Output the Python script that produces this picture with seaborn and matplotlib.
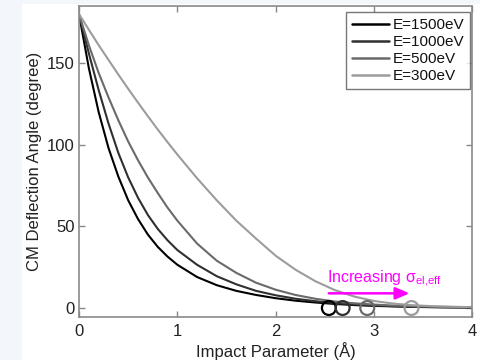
import matplotlib
matplotlib.use("Agg")
import matplotlib.pyplot as plt
from matplotlib.patches import Rectangle
import seaborn as sns
import pandas as pd

# ---- data ----
b_grid = [0, 0.1, 0.2, 0.3, 0.4, 0.5, 0.6, 0.7, 0.8, 0.9, 1.0, 1.2, 1.4, 1.6,
          1.8, 2.0, 2.2, 2.4, 2.6, 2.8, 3.0, 3.2, 3.4, 3.6, 3.8, 4.0]
theta_1500 = [180, 147, 120, 98, 80.5, 66, 54.5, 45, 37.5, 31.5, 26.5, 19, 14, 10.5,
              8, 6, 4.5, 3.4, 2.5, 1.8, 1.3, 1.0, 0.7, 0.5, 0.4, 0.3]
theta_1000 = [180, 156, 133.5, 113, 95, 80, 67.5, 57, 48.5, 41.5, 35.5, 26.5, 19.5, 14.5,
              10.5, 7.8, 5.7, 4.2, 3, 2.2, 1.6, 1.1, 0.8, 0.6, 0.4, 0.3]
theta_500 = [180, 161, 144, 129, 115, 102, 90.5, 80, 70.5, 61.5, 53.5, 39.5, 29, 21.5,
             15.5, 11.2, 8, 5.7, 4, 2.9, 2.1, 1.5, 1.1, 0.8, 0.6, 0.45]
theta_300 = [180, 170.5, 161, 152, 143, 134.3, 125.8, 117.5, 109.4, 101.6, 94, 79.5, 66, 53.5,
             42.5, 32, 23.5, 16.5, 11, 7, 4.3, 2.7, 1.7, 1.1, 0.8, 0.5]
energies = ["E=1500eV", "E=1000eV", "E=500eV", "E=300eV"]
cutoff_b = [2.54, 2.68, 2.93, 3.38]
cutoff_theta = [0, 0, 0, 0]
x_ticks = [0, 1, 2, 3, 4]
y_ticks = [0, 50, 100, 150]
arrow_start = (2.54, 9)
arrow_end = (3.36, 9)
label_pos = (2.52, 15.5)

colors = ["#000000", "#303030", "#6a6a6a", "#9c9c9c"]

df = pd.DataFrame({
    "b": b_grid * 4,
    "theta": theta_1500 + theta_1000 + theta_500 + theta_300,
    "E": sum([[e] * len(b_grid) for e in energies], []),
})

sns.set_theme(style="white")
plt.rcParams["font.family"] = ["Liberation Sans", "DejaVu Sans"]
plt.rcParams["mathtext.default"] = "regular"

fig = plt.figure(figsize=(4.81, 3.60), dpi=100)
fig.patch.set_facecolor("white")
fig.patches.append(Rectangle((0, 0), 22 / 481, 1, transform=fig.transFigure,
                             facecolor="#f3f6fa", edgecolor="none", zorder=-10))
fig.patches.append(Rectangle((0, 1 - 4 / 360), 1, 4 / 360, transform=fig.transFigure,
                             facecolor="#f3f6fa", edgecolor="none", zorder=-10))

ax = fig.add_axes([79 / 481, 43 / 360, (472.5 - 79) / 481, (317 - 6) / 360])

sns.lineplot(data=df, x="b", y="theta", hue="E", hue_order=energies,
             palette=colors, linewidth=1.5, estimator=None, sort=False, ax=ax)

ax.scatter(cutoff_b, cutoff_theta, s=100, facecolors="none", edgecolors=colors,
           linewidths=1.6, zorder=5)

ax.annotate("", xy=arrow_end, xytext=arrow_start,
            arrowprops=dict(arrowstyle="-|>,head_length=0.7,head_width=0.3",
                            color="#ff00ff", lw=1.8, shrinkA=0, shrinkB=0))
ax.text(label_pos[0], label_pos[1], r"Increasing $\sigma_{el{,}eff}$",
        color="#ff00ff", fontsize=11.5, ha="left", va="baseline")

ax.set_xlim(0, 4)
ax.set_ylim(-5.5, 185)
ax.set_xticks(x_ticks)
ax.set_yticks(y_ticks)
ax.set_xlabel("Impact Parameter (Å)", fontsize=12, color="#222222", labelpad=2)
ax.set_ylabel("CM Deflection Angle (degree)", fontsize=12, color="#222222", labelpad=4)
ax.tick_params(direction="in", length=4, width=1, color="#888888",
               labelsize=12, labelcolor="#222222", top=True, right=True,
               bottom=True, left=True)
ax.tick_params(axis="x", pad=5)
ax.tick_params(axis="y", pad=3)
for s in ax.spines.values():
    s.set_color("#8a8a8a")
    s.set_linewidth(1.2)
ax.set_facecolor("white")

leg = ax.legend(loc="upper right", bbox_to_anchor=(0.994, 0.981), borderaxespad=0,
                fontsize=11, frameon=True, fancybox=False, handlelength=2.4,
                handletextpad=0.25, labelspacing=0.2, borderpad=0.4)
leg.get_frame().set_edgecolor("#555555")
leg.get_frame().set_linewidth(1.0)
for t in leg.get_texts():
    t.set_color("#111111")
for l in leg.get_lines():
    l.set_linewidth(1.8)

fig.savefig("out.png", dpi=100)
